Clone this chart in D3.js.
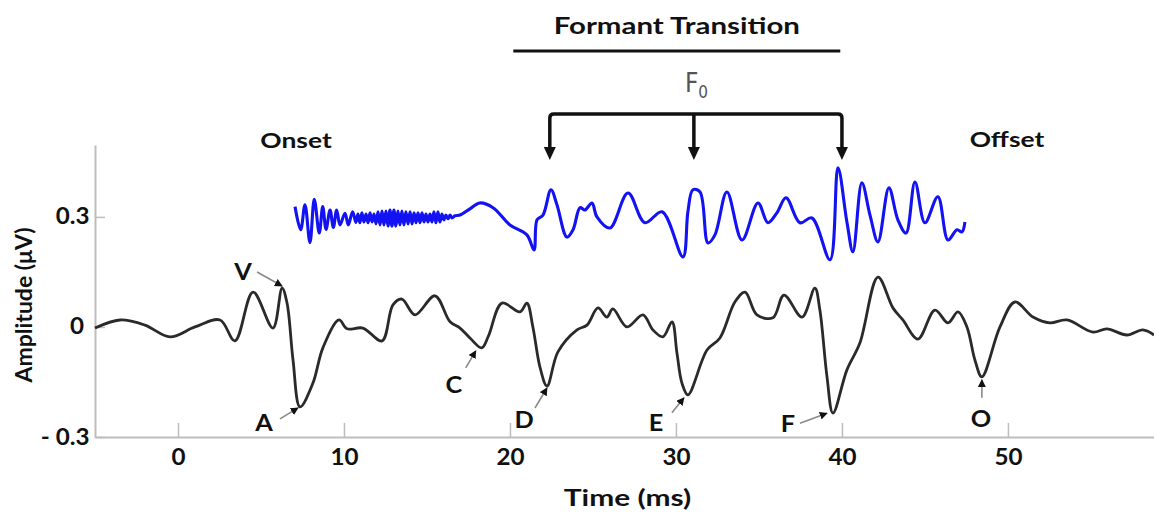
<!DOCTYPE html>
<html>
<head>
<meta charset="utf-8">
<script src="https://cdn.jsdelivr.net/npm/d3@7"></script>
<style>
  body { margin: 0; background: #fff; }
  text { font-family: Lato, "Open Sans", sans-serif; }
</style>
</head>
<body>
<div id="chart"></div>
<script>
// time (ms) ticks and amplitude (uV) ticks
var timeTicks = [0, 10, 20, 30, 40, 50];
var ampTicks = [-0.3, 0, 0.3];
var ampTickLabels = ["- 0.3", "0", "0.3"];

// recorded response (black), [ms, uV]
var abrWave = [
    [-5.0, -0.003], [-3.49, 0.019], [-1.99, 0.005], [-0.48, -0.027], [1.02, 0.0], [2.53, 0.019],
    [3.43, -0.038], [4.52, 0.095], [5.72, -0.003], [6.27, 0.106], [6.57, 0.065], [6.93, -0.09],
    [7.35, -0.218], [8.13, -0.153], [8.73, -0.057], [9.70, 0.019], [10.18, -0.005], [11.14, -0.003],
    [12.29, -0.038], [12.95, 0.06], [13.49, 0.076], [14.28, 0.033], [15.48, 0.085], [16.39, 0.014],
    [16.99, -0.003], [17.59, -0.03], [18.3, -0.057], [18.7, -0.025], [19.52, 0.065], [20.60, 0.041],
    [21.02, 0.065], [21.38, 0.0], [21.81, -0.11], [22.23, -0.161], [22.89, -0.068], [24.04, -0.008],
    [24.64, 0.005], [25.30, 0.052], [25.84, 0.027], [26.20, 0.049], [27.05, 0.0], [28.01, 0.033],
    [28.61, -0.008], [29.22, -0.027], [29.76, 0.014], [30.06, -0.071], [30.36, -0.153], [30.72, -0.185],
    [31.87, -0.063], [32.65, -0.03], [33.55, 0.068], [34.16, 0.095], [34.88, 0.033], [35.84, 0.025],
    [36.51, 0.087], [37.59, 0.027], [38.37, 0.106], [38.67, 0.046], [39.1, -0.136], [39.46, -0.235],
    [40.30, -0.117], [41.08, -0.044], [42.17, 0.136], [43.07, 0.052], [43.67, 0.019], [44.58, -0.033],
    [45.60, 0.046], [46.39, 0.011], [46.99, 0.041], [47.53, 0.0], [48.01, -0.09], [48.43, -0.136],
    [49.52, 0.0], [50.42, 0.068], [51.51, 0.027], [52.53, 0.011], [53.55, 0.019], [55.12, -0.014],
    [55.96, -0.005], [57.17, -0.022], [58.13, -0.008], [58.80, -0.022]
];

// stimulus waveform (blue), drawn around 0.3 uV
var stimWave = [
    [7.05, 0.328], [7.39, 0.265], [7.65, 0.333], [7.95, 0.230], [8.21, 0.348], [8.51, 0.256],
    [8.72, 0.328], [8.92, 0.266], [9.16, 0.319], [9.36, 0.271], [9.56, 0.319], [9.76, 0.278],
    [10.06, 0.310], [10.26, 0.278], [10.52, 0.314], [10.72, 0.285],
    [10.84, 0.308], [10.96, 0.284], [11.08, 0.311], [11.20, 0.286], [11.33, 0.308], [11.45, 0.284],
    [11.57, 0.311], [11.69, 0.286], [11.81, 0.308], [11.93, 0.281], [12.05, 0.314], [12.17, 0.278],
    [12.29, 0.316], [12.41, 0.278], [12.53, 0.316], [12.65, 0.275], [12.77, 0.319], [12.89, 0.275],
    [13.01, 0.319], [13.13, 0.275], [13.25, 0.316], [13.37, 0.278], [13.49, 0.316], [13.61, 0.278],
    [13.73, 0.314], [13.86, 0.281], [13.98, 0.314], [14.10, 0.281], [14.22, 0.311], [14.34, 0.284],
    [14.46, 0.311], [14.58, 0.284], [14.70, 0.311], [14.82, 0.286], [14.94, 0.308], [15.06, 0.286],
    [15.18, 0.308], [15.30, 0.286], [15.42, 0.314], [15.54, 0.284], [15.66, 0.314], [15.78, 0.286],
    [15.90, 0.308], [16.02, 0.292], [16.14, 0.305], [16.27, 0.295], [16.39, 0.305], [16.51, 0.297],
    [16.69, 0.303],
    [16.99, 0.305], [17.59, 0.322], [18.19, 0.338], [18.98, 0.325], [20.0, 0.278], [21.02, 0.251],
    [21.45, 0.210], [21.63, 0.292], [21.99, 0.305], [22.47, 0.374], [22.83, 0.333], [23.43, 0.245],
    [23.80, 0.265], [24.22, 0.325], [24.52, 0.319], [24.94, 0.338], [25.24, 0.300], [26.02, 0.270],
    [27.11, 0.365], [28.13, 0.284], [29.16, 0.314], [30.42, 0.191], [30.72, 0.314], [31.02, 0.374],
    [31.45, 0.368], [31.93, 0.229], [32.35, 0.251], [33.07, 0.368], [33.98, 0.237], [34.94, 0.338],
    [35.54, 0.284], [36.08, 0.311], [36.63, 0.352], [37.47, 0.284], [38.19, 0.297], [39.28, 0.183],
    [39.76, 0.434], [40.30, 0.286], [40.66, 0.205], [41.20, 0.393], [41.69, 0.305], [42.17, 0.232],
    [42.83, 0.379], [43.37, 0.292], [43.86, 0.256], [44.40, 0.395], [45.0, 0.284], [45.78, 0.355],
    [46.39, 0.237], [46.93, 0.265], [47.23, 0.259], [47.41, 0.286]
];

// labelled peaks
var peakNames = ["V", "A", "C", "D", "E", "F", "O"];
var peakTimes = [6.27, 7.35, 18.3, 22.23, 30.72, 39.46, 48.43];
var peakAmps = [0.106, -0.218, -0.057, -0.161, -0.185, -0.235, -0.136];

var transitionSpan = [20.2, 39.9];
var f0Times = [22.4, 31.08, 40.0];

var W = 1154, H = 513;
var x = d3.scaleLinear().domain([-5, 58.8]).range([95, 1154]);
var y = d3.scaleLinear().domain([-0.3, 0.496]).range([437, 145]);

var svg = d3.select("#chart").append("svg")
    .attr("width", W).attr("height", H)
    .style("background", "#fff");

// the source figure's bold labels are wide, so horizontal text is stretched a bit
function label(px, py, str, size, stretch) {
    return svg.append("text")
        .attr("transform", "translate(" + px + "," + py + ") scale(" + stretch + ",1)")
        .attr("text-anchor", "middle")
        .attr("font-size", size).attr("font-weight", 700).attr("fill", "#111")
        .text(str);
}

// axes
var xAxis = svg.append("g").attr("transform", "translate(0," + y(-0.3) + ")")
    .call(d3.axisBottom(x).tickValues(timeTicks).tickSizeInner(-14).tickSizeOuter(0).tickPadding(12));
var yAxis = svg.append("g").attr("transform", "translate(" + x(-5) + ",0)")
    .call(d3.axisLeft(y).tickValues(ampTicks).tickSizeInner(-10).tickSizeOuter(0).tickPadding(5)
        .tickFormat(function(d, i) { return ampTickLabels[i]; }));

[xAxis, yAxis].forEach(function(a) {
    a.select(".domain").attr("stroke", "#bdbdbd").attr("stroke-width", 2);
    a.selectAll(".tick line").attr("stroke", "#bdbdbd").attr("stroke-width", 1.5);
    a.selectAll(".tick text").attr("fill", "#111").attr("font-size", 22).attr("font-weight", 700)
        .attr("transform", "scale(1.1,1)")
        .style("font-family", "Lato, sans-serif");
});
yAxis.selectAll(".tick text").filter(function(d) { return d === 0; }).attr("x", -10);

// waveforms
var line = d3.line().x(function(d) { return x(d[0]); }).y(function(d) { return y(d[1]); })
    .curve(d3.curveCatmullRom.alpha(0.5));

svg.append("path").datum(stimWave)
    .attr("d", line)
    .attr("fill", "none").attr("stroke", "#1212f2").attr("stroke-width", 3.1)
    .attr("stroke-linejoin", "round");

svg.append("path").datum(abrWave)
    .attr("d", line)
    .attr("fill", "none").attr("stroke", "#2a2a2a").attr("stroke-width", 2.8)
    .attr("stroke-linejoin", "round");

// peak labels with little arrows: [tip dx, tip dy, tail dx, tail dy, label dx, label dy]
var peakOffsets = [
    [0, -2, -25, -16, -39, -16],
    [-2, 1, -20, 12, -36, 16],
    [-6, 3, -16, 20, -28, 37],
    [0, 2, -12, 22, -23, 34],
    [-4, 3, -16, 18, -32, 28],
    [-6, 0, -33, 10, -45, 11],
    [0, 3, 0, 21, -1, 42]
];

svg.append("defs").append("marker")
    .attr("id", "head").attr("viewBox", "0 0 10 10")
    .attr("refX", 9).attr("refY", 5)
    .attr("markerWidth", 5).attr("markerHeight", 5)
    .attr("markerUnits", "strokeWidth")
    .attr("orient", "auto")
    .append("path").attr("d", "M0,0L10,5L0,10Z").attr("fill", "#111");

var peaks = svg.append("g");
peakNames.forEach(function(name, i) {
    var px = x(peakTimes[i]), py = y(peakAmps[i]), o = peakOffsets[i];
    peaks.append("line")
        .attr("x1", px + o[2]).attr("y1", py + o[3])
        .attr("x2", px + o[0]).attr("y2", py + o[1])
        .attr("stroke", "#8a8a8a").attr("stroke-width", 1.6)
        .attr("marker-end", "url(#head)");
    label(px + o[4], py + o[5] + 8, name, 22, 1.15);
});

// formant transition bar and title
label(d3.mean(transitionSpan.map(x)), 34, "Formant Transition", 23, 1.28);
svg.append("line")
    .attr("x1", x(transitionSpan[0])).attr("x2", x(transitionSpan[1]))
    .attr("y1", 51).attr("y2", 51)
    .attr("stroke", "#111").attr("stroke-width", 3);

// F0 bracket
var f0 = svg.append("text")
    .attr("x", x(f0Times[1]) - 9).attr("y", 92)
    .attr("fill", "#555")
    .style("font-family", "'Liberation Sans Narrow', 'DejaVu Sans Condensed', sans-serif")
    .attr("font-size", 26);
f0.append("tspan").text("F");
f0.append("tspan").attr("font-size", 17).attr("dy", 6).text("0");

var bracketY = 114, tipY = 160;
svg.append("path")
    .attr("d", "M" + x(f0Times[0]) + "," + (tipY - 10) + "V" + (bracketY + 4) +
        "Q" + x(f0Times[0]) + "," + bracketY + " " + (x(f0Times[0]) + 4) + "," + bracketY +
        "H" + (x(f0Times[2]) - 4) +
        "Q" + x(f0Times[2]) + "," + bracketY + " " + x(f0Times[2]) + "," + (bracketY + 4) +
        "V" + (tipY - 10) +
        "M" + x(f0Times[1]) + "," + bracketY + "V" + (tipY - 10))
    .attr("fill", "none").attr("stroke", "#111").attr("stroke-width", 3.5);
svg.append("g").selectAll("path").data(f0Times).enter().append("path")
    .attr("d", function(t) {
        var cx = x(t);
        return "M" + (cx - 6) + "," + (tipY - 13) + "L" + (cx + 6) + "," + (tipY - 13) + "L" + cx + "," + tipY + "Z";
    })
    .attr("fill", "#111");

// onset / offset
label(296, 148, "Onset", 21, 1.26);
label(1007, 147, "Offset", 21, 1.26);

// axis titles
label((95 + 1154) / 2 + 3, 506, "Time (ms)", 23, 1.3);
svg.append("text")
    .attr("transform", "translate(32,305) rotate(-90)")
    .attr("text-anchor", "middle")
    .attr("font-size", 23).attr("font-weight", 700).attr("fill", "#111")
    .text("Amplitude (μV)");
</script>
</body>
</html>
